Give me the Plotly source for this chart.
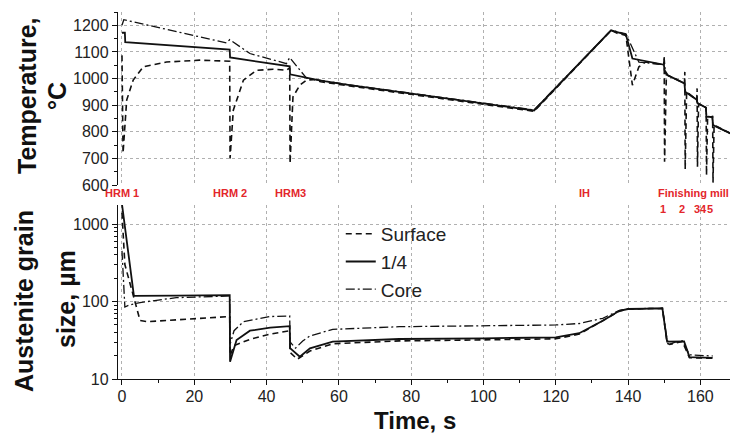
import plotly.graph_objects as go

# ---------------- data ----------------
# Temperature (top panel)
t_temp_surface = [0.0, 0.3, 1.3, 3.1, 5.9, 12.3, 21.5, 29.8, 29.9, 30.8, 33.6, 37.2, 41.8, 45.5,
                  46.4, 46.5, 47.3, 49.2, 51.0, 53.0, 55.0, 63.0, 114.0, 135.3, 137.0, 139.4,
                  141.2, 143.0, 144.8, 149.9, 150.0, 150.1, 150.6, 151.0, 155.6, 155.7, 155.8,
                  156.2, 159.0, 159.1, 159.2, 159.5, 161.5, 161.6, 161.7, 162.0, 163.3, 163.4,
                  163.5, 163.8, 168.3]
temp_surface = [1087, 720, 919, 994, 1044, 1062, 1069, 1065, 700, 881, 994, 1031, 1035, 1031,
                1040, 681, 931, 975, 994, 996, 988, 972, 877, 1181, 1170, 1162,
                975, 1044, 1062, 1052, 1081, 687, 1015, 1012, 982, 1025, 659,
                950, 918, 963, 669, 905, 891, 890, 637, 856, 856, 860,
                609, 825, 794]

t_temp_quarter = [0.0, 0.8, 0.9, 29.8, 29.9, 46.4, 46.5, 51.0, 55.0, 63.0, 114.0, 135.3, 139.4,
                  141.2, 149.9, 150.1, 151.0, 155.6, 155.8, 159.0, 159.2, 161.5, 161.7, 163.3,
                  163.5, 168.3]
temp_quarter = [1172, 1172, 1137, 1109, 1079, 1046, 1016, 1004, 992, 975, 880, 1181, 1165,
                1075, 1052, 1031, 1012, 982, 950, 920, 908, 891, 856, 856,
                825, 794]

t_temp_core = [0.0, 0.5, 28.9, 29.8, 35.4, 45.5, 46.4, 51.0, 55.0, 63.0, 114.0, 135.3, 139.4,
               143.0, 149.8, 150.0, 150.3, 151.0, 155.6, 155.8, 159.0, 159.2, 161.5, 161.7,
               163.3, 163.5, 168.3]
temp_core = [1200, 1221, 1134, 1146, 1094, 1056, 1079, 1002, 993, 976, 882, 1181, 1168,
             1062, 1052, 1081, 1020, 1012, 982, 955, 920, 908, 891, 858,
             856, 825, 794]

# Austenite grain size (bottom panel)
t_grain_surface = [0.0, 0.8, 5.0, 7.0, 15.0, 29.8, 29.9, 31.0, 35.4, 41.0, 46.4, 46.5, 48.5,
                   52.0, 58.3, 76.7, 100.0, 120.0, 126.5, 133.0, 137.6, 140.0, 149.5, 150.8,
                   151.5, 155.0, 157.0, 163.4]
grain_surface = [1400, 300, 57, 55, 58, 64, 20, 27, 32.5, 38, 42, 22, 18,
                 23, 28.5, 31, 32, 33, 38, 56, 75, 80, 81.5, 29,
                 28, 30.5, 18.8, 18.5]

t_grain_quarter = [0.0, 3.3, 15.0, 29.8, 29.9, 31.7, 35.4, 41.0, 46.4, 46.5, 49.2, 52.0, 58.3,
                   76.7, 100.0, 120.0, 126.5, 133.0, 137.6, 140.0, 149.5, 150.8, 155.5, 157.0,
                   163.4]
grain_quarter = [1800, 118, 119, 121, 16.7, 31.8, 42, 46, 48, 25, 19.4, 24.9, 30.3,
                 32.8, 33.5, 34.5, 39, 56.5, 76, 80, 81.5, 30.3, 30.5, 19.2,
                 18.7]

t_grain_core = [0.0, 0.8, 2.0, 5.0, 15.0, 29.8, 29.9, 31.0, 33.6, 41.0, 46.4, 46.5, 48.0,
                50.0, 52.0, 58.3, 76.7, 100.0, 120.0, 126.5, 133.0, 137.6, 140.0, 149.5,
                150.8, 151.5, 153.0, 155.0, 157.0, 163.4]
grain_core = [450, 85, 90, 97, 112, 118, 28, 42, 55, 64, 65, 30, 25,
              31, 36, 43.7, 47.3, 48.5, 49.8, 52, 60.7, 77, 80.5, 82,
              32, 28, 30, 31, 20.5, 19.8]

series_names = ["Surface", "1/4", "Core"]

# process labels
stage_labels = ["HRM 1", "HRM 2", "HRM3", "IH"]
stage_times = [0.0, 29.8, 46.6, 128.0]
finish_label = "Finishing mill"
finish_label_time = 147.8
stand_labels = ["1", "2", "3", "4", "5"]
stand_label_times = [149.8, 154.9, 159.2, 161.0, 162.8]

x_ticks = [0, 20, 40, 60, 80, 100, 120, 140, 160]
temp_ticks = [600, 700, 800, 900, 1000, 1100, 1200]
grain_ticks = [10, 100, 1000]

# ---------------- figure ----------------
FONT = "Liberation Sans, Arial, sans-serif"
RED = "#e3262b"
INK = "#111111"
GRID = "#b0b0b0"
GDASH = "dot"

styles = [
    dict(color=INK, width=1.6, dash="6px,4px"),
    dict(color=INK, width=1.8, dash="solid"),
    dict(color=INK, width=1.3, dash="9px,3px,2px,3px"),
]

fig = go.Figure()
temp_data = [(t_temp_surface, temp_surface), (t_temp_quarter, temp_quarter), (t_temp_core, temp_core)]
grain_data = [(t_grain_surface, grain_surface), (t_grain_quarter, grain_quarter), (t_grain_core, grain_core)]

for name, st, (tx, ty) in zip(series_names, styles, temp_data):
    fig.add_trace(go.Scatter(x=tx, y=ty, mode="lines", line=st, name=name,
                             legendgroup=name, showlegend=False, xaxis="x", yaxis="y"))
for name, st, (tx, ty) in zip(series_names, styles, grain_data):
    fig.add_trace(go.Scatter(x=tx, y=ty, mode="lines", line=st, name=name,
                             legendgroup=name, showlegend=True, xaxis="x2", yaxis="y2"))

xr = [-1.1, 168.2]
common_x = dict(range=xr, tickmode="array", tickvals=x_ticks, showgrid=True, gridcolor=GRID,
                griddash=GDASH, gridwidth=1, zeroline=False)

fig.update_layout(
    width=730, height=435,
    margin=dict(l=118, r=0, t=12, b=56),
    paper_bgcolor="white", plot_bgcolor="white",
    font=dict(family=FONT, color="#222222", size=16),
    xaxis=dict(**common_x, domain=[0, 1], anchor="y", showline=False, showticklabels=False,
               ticks=""),
    yaxis=dict(domain=[0.5286, 1], range=[600, 1250], tickmode="array", tickvals=temp_ticks,
               showgrid=True, gridcolor=GRID, griddash=GDASH, gridwidth=1, zeroline=False,
               showline=True, linecolor=INK, linewidth=1.3, ticks="outside", ticklen=5,
               tickcolor=INK,
               minor=dict(ticks="outside", ticklen=3, dtick=50, tickcolor=INK, showgrid=False),
               tickfont=dict(size=16, family=FONT)),
    xaxis2=dict(**common_x, domain=[0, 1], anchor="y2", showline=True, linecolor=INK,
                linewidth=1.3, ticks="outside", ticklen=5, tickcolor=INK,
                ticklabelstandoff=-2,
                minor=dict(ticks="outside", ticklen=3, dtick=10, tickcolor=INK, showgrid=False),
                tickfont=dict(size=16, family=FONT)),
    yaxis2=dict(domain=[0, 0.474], type="log", range=[1, 3.245], tickmode="array",
                tickvals=grain_ticks, ticktext=[str(v) for v in grain_ticks], showgrid=True,
                gridcolor=GRID, griddash=GDASH, gridwidth=1, zeroline=False, showline=True,
                linecolor=INK, linewidth=1.3, ticks="outside", ticklen=5, tickcolor=INK,
                minor=dict(ticks="outside", ticklen=3, dtick="D1", tickcolor=INK, showgrid=False),
                tickfont=dict(size=16, family=FONT)),
    legend=dict(x=0.364, y=0.447, xanchor="left", yanchor="top", bgcolor="rgba(0,0,0,0)",
                font=dict(size=19, family=FONT, color="#222222"), tracegroupgap=0,
                traceorder="normal"),
    showlegend=True,
)

def px_to_paper_x(px):
    return (px - 118) / 612.0

def px_to_paper_y(py):
    return (379 - py) / 367.0

ann = []
# axis titles
ann.append(dict(text="<b>Temperature,</b>", x=px_to_paper_x(27), y=px_to_paper_y(96)))
ann.append(dict(text="<b>°C</b>", x=px_to_paper_x(57), y=px_to_paper_y(96)))
ann.append(dict(text="<b>Austenite grain</b>", x=px_to_paper_x(24), y=px_to_paper_y(301)))
ann.append(dict(text="<b>size, µm</b>", x=px_to_paper_x(66), y=px_to_paper_y(299)))
for a in ann:
    a.update(xref="paper", yref="paper", textangle=-90, showarrow=False,
             xanchor="center", yanchor="middle", font=dict(size=25, family=FONT, color="#111111"))
fig.update_layout(annotations=ann)

fig.add_annotation(text="<b>Time, s</b>", xref="paper", yref="paper", x=px_to_paper_x(415),
                   y=px_to_paper_y(420), showarrow=False, xanchor="center", yanchor="middle",
                   font=dict(size=24, family=FONT, color="#111111"))

for lab, tt in zip(stage_labels, stage_times):
    fig.add_annotation(text="<b>%s</b>" % lab, xref="x", yref="paper", x=tt,
                       y=px_to_paper_y(193), showarrow=False, xanchor="center",
                       yanchor="middle", font=dict(size=11, family=FONT, color=RED))
fig.add_annotation(text="<b>%s</b>" % finish_label, xref="x", yref="paper", x=finish_label_time,
                   y=px_to_paper_y(193), showarrow=False, xanchor="left", yanchor="middle",
                   font=dict(size=11, family=FONT, color=RED))
for lab, tt in zip(stand_labels, stand_label_times):
    fig.add_annotation(text="<b>%s</b>" % lab, xref="x", yref="paper", x=tt,
                       y=px_to_paper_y(209), showarrow=False, xanchor="center",
                       yanchor="middle", font=dict(size=11, family=FONT, color=RED))

fig.write_html("out.html")
